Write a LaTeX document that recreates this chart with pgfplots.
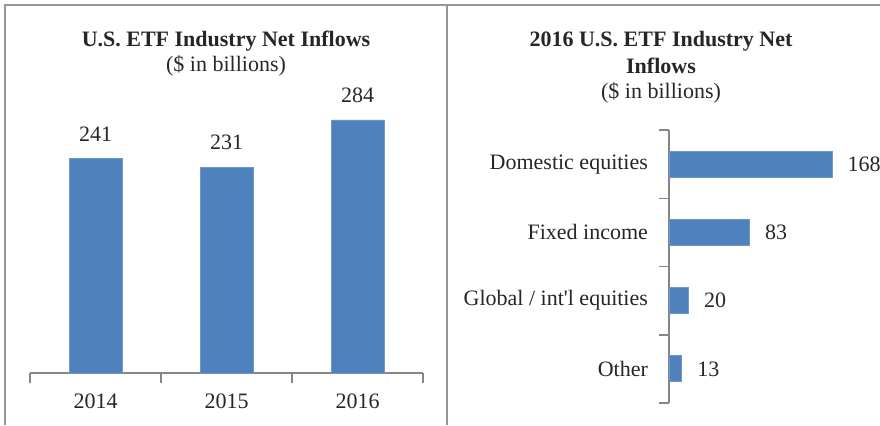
\documentclass[border=0pt]{standalone}
\usepackage{pgfplots}
\pgfplotsset{compat=1.18}
\usepackage{fontspec}
\setmainfont{Liberation Serif}
\definecolor{barblue}{RGB}{79,129,189}
\definecolor{baredge}{RGB}{110,150,200}
\definecolor{axgray}{RGB}{134,134,134}
\definecolor{framegray}{RGB}{150,150,150}
\definecolor{txt}{RGB}{38,38,38}
\begin{document}
\begin{tikzpicture}[font=\fontsize{11}{13}\selectfont, text=txt]
\path[use as bounding box] (0,0) rectangle (440pt,212.5pt);
\begin{scope}
\clip (0,0) rectangle (440pt,212.5pt);
% frame
\draw[framegray, line width=0.75pt] (2.5pt,0) -- (2.5pt,210pt) -- (445pt,210pt);
\draw[framegray, line width=0.75pt] (223.5pt,0) -- (223.5pt,210pt);
% titles
\node[anchor=base, font=\fontsize{11}{13}\selectfont\bfseries] at (113pt,189.5pt) {U.S. ETF Industry Net Inflows};
\node[anchor=base] at (113pt,177pt) {(\$ in billions)};
\node[anchor=base, font=\fontsize{11}{13}\selectfont\bfseries] at (330.5pt,189.5pt) {2016 U.S. ETF Industry Net};
\node[anchor=base, font=\fontsize{11}{13}\selectfont\bfseries] at (330.5pt,176pt) {Inflows};
\node[anchor=base] at (330.5pt,163.5pt) {(\$ in billions)};
% left chart
\begin{axis}[
  at={(15pt,26pt)}, anchor=south west,
  scale only axis, width=196.5pt, height=133.65pt,
  xmin=-0.5, xmax=2.5, ymin=0, ymax=300,
  axis x line=bottom, axis y line=none,
  axis line style={axgray, line width=0.75pt, -},
  xtick={0,1,2}, xticklabels={2014,2015,2016},
  major tick length=0pt,
  minor xtick={-0.5,0.5,1.5,2.5}, minor tick length=5pt,
  tick align=outside,
  minor tick style={axgray, line width=0.75pt},
  xticklabel style={font=\fontsize{11}{13}\selectfont, text=txt, yshift=-7pt},
  ybar, bar width=26.5pt,
  /pgf/number format/assume math mode=true,
  nodes near coords,
  every node near coord/.append style={font=\fontsize{11}{13}\selectfont, text=txt, anchor=south, yshift=5pt},
  clip=false,
]
\addplot[fill=barblue, draw=baredge, line width=0.4pt] coordinates {(0,241) (1,231) (2,284)};
\end{axis}
% right chart
\begin{axis}[
  at={(334.5pt,11pt)}, anchor=south west,
  scale only axis, width=97pt, height=136.5pt,
  ymin=-0.5, ymax=3.5, xmin=0, xmax=200,
  axis y line=left, axis x line=none,
  axis line style={axgray, line width=0.75pt, -},
  ytick={0,1,2,3}, yticklabels={Other,Global / int\textquotesingle l equities,Fixed income,Domestic equities},
  major tick length=0pt,
  minor ytick={-0.5,0.5,1.5,2.5,3.5}, minor tick length=5pt,
  tick align=outside,
  minor tick style={axgray, line width=0.75pt},
  yticklabel style={font=\fontsize{11}{13}\selectfont, text=txt, anchor=east, xshift=-7pt},
  xbar, bar width=13pt,
  /pgf/number format/assume math mode=true,
  nodes near coords,
  every node near coord/.append style={font=\fontsize{11}{13}\selectfont, text=txt, anchor=west, xshift=4.3pt},
  clip=false,
]
\addplot[fill=barblue, draw=baredge, line width=0.4pt] coordinates {(13,0) (20,1) (83,2) (168,3)};
\end{axis}
\end{scope}
\end{tikzpicture}
\end{document}
